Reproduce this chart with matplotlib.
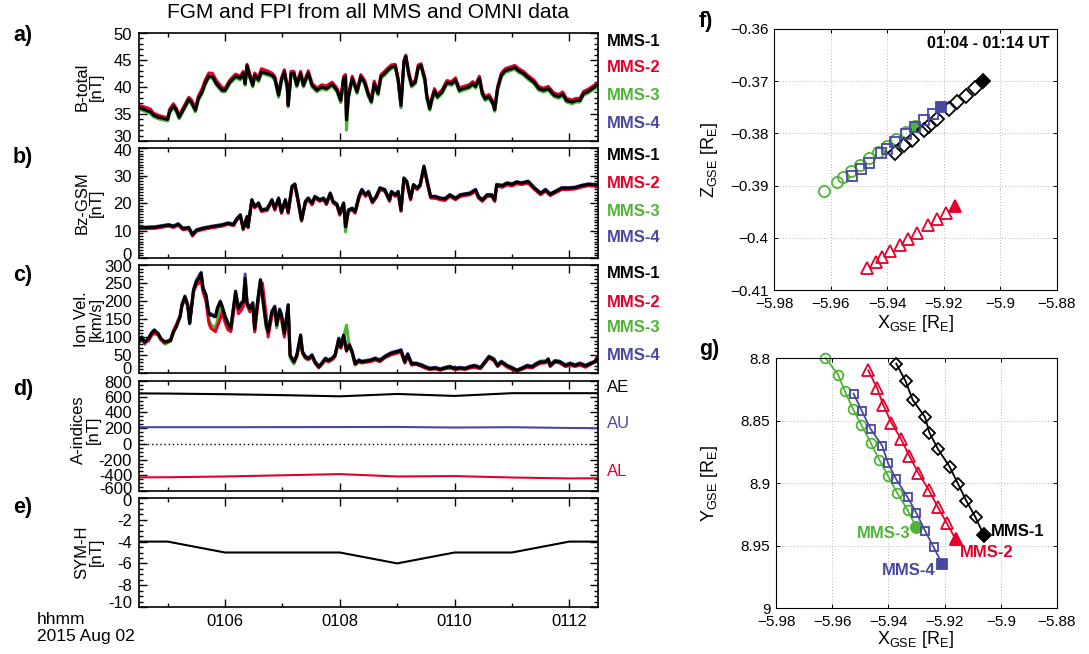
import matplotlib
matplotlib.use("Agg")
import matplotlib.pyplot as plt
from matplotlib.ticker import FixedLocator, MultipleLocator, FuncFormatter, NullFormatter

plt.rcParams['font.family'] = ['Liberation Sans', 'DejaVu Sans']
plt.rcParams['mathtext.fontset'] = 'custom'
plt.rcParams['mathtext.rm'] = 'Liberation Sans'
plt.rcParams['mathtext.it'] = 'Liberation Sans:italic'
plt.rcParams['mathtext.bf'] = 'Liberation Sans:bold'

# ---------------------------------------------------------------- data
# time stamps: seconds after 01:04:00 UT, 2015 Aug 02
t_btot = [
    30, 36, 42, 45, 50, 55, 60, 62, 66, 69,
    72, 76, 82, 85, 89, 92, 96, 99, 103, 107,
    111, 117, 120, 125, 131, 136, 139, 141, 143, 146,
    149, 151, 155, 158, 164, 169, 172, 176, 179, 182,
    185, 186, 189, 192, 195, 199, 202, 207, 211, 216,
    221, 226, 232, 237, 241, 244, 246, 247, 249, 253,
    258, 262, 266, 270, 273, 276, 280, 283, 287, 290,
    294, 298, 301, 304, 307, 309, 312, 315, 319, 322,
    325, 329, 331, 334, 336, 339, 342, 347, 352, 357,
    361, 365, 369, 375, 379, 382, 386, 389, 392, 396,
    400, 402, 405, 409, 413, 418, 423, 427, 432, 437,
    443, 448, 453, 458, 464, 469, 473, 477, 483, 487,
    491, 495, 499, 504, 510]
btot_mms1 = [
    36.2, 35.8, 35.4, 34.8, 34.4, 34.2, 34.0, 35.4, 36.5, 35.7,
    34.4, 35.7, 37.7, 37.1, 35.7, 37.8, 39.1, 40.6, 42.0, 41.9,
    40.6, 39.4, 39.4, 40.9, 42.0, 41.6, 42.5, 40.6, 44.0, 41.9,
    40.3, 42.2, 41.3, 42.8, 42.5, 42.2, 41.6, 38.5, 41.3, 42.8,
    40.0, 36.6, 42.5, 42.5, 40.3, 42.5, 40.3, 42.6, 40.3, 39.4,
    40.0, 39.7, 40.5, 39.4, 37.5, 41.6, 41.9, 33.9, 38.2, 41.6,
    39.1, 41.9, 40.8, 38.5, 37.3, 40.6, 38.8, 41.9, 42.5, 43.1,
    43.7, 43.9, 41.3, 36.6, 44.6, 45.7, 42.5, 40.3, 40.9, 43.7,
    44.0, 41.3, 38.2, 36.0, 37.5, 39.3, 38.2, 39.1, 40.8, 40.6,
    41.3, 39.4, 39.7, 40.0, 40.6, 40.1, 41.6, 38.8, 37.8, 38.2,
    37.0, 35.8, 39.7, 42.2, 43.0, 43.3, 43.6, 43.0, 42.5, 41.7,
    40.9, 39.7, 39.4, 39.7, 38.5, 38.2, 38.7, 37.5, 37.2, 37.5,
    37.5, 38.8, 39.1, 39.7, 40.5]
btot_mms2 = [
    36.6, 36.3, 35.9, 35.2, 34.8, 34.5, 34.3, 35.9, 36.9, 36.1,
    34.8, 36.1, 38.1, 37.6, 36.1, 38.3, 39.7, 41.2, 42.6, 42.5,
    41.2, 39.9, 39.8, 41.3, 42.4, 42.0, 42.9, 41.0, 44.2, 42.4,
    40.8, 42.6, 41.8, 43.4, 43.0, 42.6, 42.0, 38.9, 41.7, 43.2,
    40.4, 37.0, 42.9, 42.9, 40.7, 42.9, 40.7, 43.0, 40.7, 39.8,
    40.4, 40.2, 40.9, 39.8, 37.9, 42.0, 42.3, 34.6, 38.6, 42.0,
    39.5, 42.3, 41.2, 38.9, 37.7, 41.1, 39.2, 42.3, 42.9, 43.5,
    44.1, 44.2, 41.7, 37.0, 44.9, 45.9, 42.9, 40.7, 41.3, 44.1,
    44.3, 41.7, 38.6, 36.4, 37.9, 39.7, 38.6, 39.5, 41.2, 41.0,
    41.7, 39.8, 40.1, 40.4, 41.0, 40.5, 42.0, 39.2, 38.2, 38.6,
    37.4, 36.2, 40.1, 42.6, 43.4, 43.7, 44.0, 43.4, 42.9, 42.1,
    41.3, 40.1, 39.8, 40.1, 38.9, 38.6, 39.1, 37.9, 37.6, 37.9,
    37.9, 39.2, 39.5, 40.1, 40.8]
btot_mms3 = [
    35.9, 35.5, 35.1, 34.5, 34.1, 33.9, 33.7, 35.1, 36.2, 35.4,
    34.1, 35.4, 37.4, 36.8, 35.4, 37.5, 38.8, 40.3, 41.7, 41.6,
    40.3, 39.1, 39.1, 40.6, 41.7, 41.3, 42.2, 40.3, 43.7, 41.6,
    40.0, 41.9, 41.0, 42.5, 42.2, 41.9, 41.3, 38.1, 41.0, 42.5,
    39.7, 36.3, 42.2, 42.2, 40.0, 42.2, 40.0, 42.3, 40.0, 39.1,
    39.7, 39.4, 40.2, 39.1, 37.1, 41.3, 41.6, 32.0, 37.9, 41.3,
    38.8, 41.6, 40.5, 38.2, 37.0, 40.3, 38.5, 41.6, 42.2, 42.8,
    43.4, 43.6, 41.0, 36.3, 44.3, 45.4, 42.2, 40.0, 40.6, 43.4,
    43.7, 41.0, 37.9, 35.7, 37.2, 39.0, 37.9, 38.8, 40.5, 40.3,
    41.0, 39.1, 39.4, 39.7, 40.3, 39.8, 41.3, 38.5, 37.5, 37.9,
    36.7, 35.5, 39.4, 41.9, 42.7, 43.0, 43.3, 42.7, 42.2, 41.4,
    40.6, 39.4, 39.1, 39.4, 38.2, 37.9, 38.4, 37.2, 36.9, 37.2,
    37.2, 38.5, 38.8, 39.4, 40.0]
btot_mms4 = [
    36.1, 35.7, 35.3, 34.7, 34.3, 34.1, 33.9, 35.3, 36.4, 35.6,
    34.3, 35.6, 37.6, 37.0, 35.6, 37.7, 39.0, 40.5, 41.9, 41.8,
    40.5, 39.3, 39.3, 40.8, 41.9, 41.5, 42.4, 40.5, 43.9, 41.8,
    40.2, 42.1, 41.2, 42.7, 42.4, 42.1, 41.5, 38.4, 41.2, 42.7,
    39.9, 36.5, 42.4, 42.4, 40.2, 42.4, 40.2, 42.5, 40.2, 39.3,
    39.9, 39.6, 40.4, 39.3, 37.4, 41.5, 41.8, 33.6, 38.1, 41.5,
    39.0, 41.8, 40.7, 38.4, 37.2, 40.5, 38.7, 41.8, 42.4, 43.0,
    43.6, 43.8, 41.2, 36.2, 44.5, 45.6, 42.4, 40.2, 40.8, 43.6,
    43.9, 41.2, 38.1, 35.8, 37.4, 39.2, 38.1, 39.0, 40.7, 40.5,
    41.2, 39.3, 39.6, 39.9, 40.5, 40.0, 41.5, 38.7, 37.7, 38.1,
    36.9, 35.7, 39.6, 42.1, 42.9, 43.2, 43.5, 42.9, 42.4, 41.6,
    40.8, 39.6, 39.3, 39.6, 38.4, 38.1, 38.6, 37.4, 37.1, 37.4,
    37.4, 38.7, 39.0, 39.6, 40.2]

t_bz = [
    30, 40, 47, 54, 61, 66, 71, 76, 82, 86,
    90, 96, 103, 110, 117, 123, 129, 132, 136, 139,
    143, 144, 148, 151, 155, 158, 164, 169, 172, 176,
    179, 183, 186, 190, 193, 196, 200, 204, 207, 211,
    214, 219, 223, 226, 230, 233, 237, 240, 244, 246,
    249, 253, 256, 260, 263, 267, 270, 274, 278, 282,
    287, 292, 294, 298, 301, 304, 307, 310, 314, 317,
    321, 324, 328, 331, 335, 340, 345, 350, 355, 361,
    366, 371, 376, 382, 385, 389, 394, 399, 402, 404,
    410, 415, 420, 425, 430, 437, 443, 450, 455, 460,
    465, 472, 479, 486, 493, 500, 507, 510]
bz_mms1 = [
    11.0, 11.1, 11.2, 11.6, 12.0, 11.5, 12.3, 10.7, 11.0, 8.5,
    10.1, 10.7, 11.2, 11.6, 12.0, 12.6, 12.2, 14.1, 15.6, 10.7,
    15.0, 11.3, 21.1, 18.7, 19.9, 17.4, 17.8, 21.1, 18.0, 21.7,
    16.8, 21.1, 16.8, 26.0, 26.8, 21.7, 13.8, 20.5, 21.7, 19.9,
    22.3, 21.1, 21.7, 19.9, 23.5, 20.5, 19.5, 16.2, 19.9, 11.3,
    17.4, 18.0, 16.8, 22.3, 24.8, 22.9, 24.1, 20.5, 22.3, 25.4,
    24.8, 21.1, 24.1, 22.9, 24.1, 17.4, 29.0, 27.8, 21.7, 26.6,
    25.4, 26.6, 33.3, 28.4, 22.3, 22.3, 21.7, 21.5, 22.9, 21.7,
    22.9, 23.2, 23.5, 24.8, 22.3, 21.1, 22.9, 22.9, 21.1, 26.6,
    26.3, 27.2, 26.8, 27.6, 27.2, 27.8, 25.6, 23.5, 24.8, 23.2,
    24.1, 25.4, 25.4, 25.6, 26.3, 26.8, 26.6, 26.6]
bz_mms2 = [
    10.6, 10.7, 10.8, 11.2, 11.6, 11.1, 11.9, 10.3, 10.6, 8.2,
    9.7, 10.3, 10.8, 11.2, 11.6, 12.2, 11.8, 13.6, 15.1, 10.4,
    14.5, 11.0, 20.5, 18.2, 19.4, 16.9, 17.3, 20.6, 17.4, 21.2,
    16.2, 20.6, 16.2, 25.5, 26.3, 21.1, 13.5, 19.9, 21.2, 19.3,
    21.8, 20.6, 21.2, 19.4, 23.0, 20.0, 19.0, 15.6, 19.3, 11.6,
    16.9, 17.5, 16.3, 21.7, 24.2, 22.4, 23.6, 20.0, 21.8, 24.9,
    24.3, 20.6, 23.6, 22.4, 23.6, 17.0, 28.4, 27.3, 21.1, 26.0,
    24.9, 26.1, 32.8, 27.9, 21.8, 21.7, 21.2, 20.9, 22.4, 21.2,
    22.4, 22.7, 23.0, 24.2, 21.8, 20.6, 22.4, 22.4, 20.6, 26.1,
    25.7, 26.6, 26.2, 27.0, 26.7, 27.2, 25.1, 23.0, 24.3, 22.7,
    23.6, 24.9, 24.9, 25.1, 25.8, 26.3, 26.1, 26.1]
bz_mms3 = [
    10.8, 10.9, 11.0, 11.4, 11.8, 11.3, 12.1, 10.5, 10.8, 7.8,
    9.9, 10.5, 11.0, 11.4, 11.8, 12.4, 12.0, 13.9, 15.4, 10.2,
    14.8, 11.1, 20.9, 18.5, 19.7, 17.2, 17.6, 20.9, 17.8, 21.5,
    16.5, 20.9, 16.5, 25.8, 26.6, 21.5, 13.4, 20.3, 21.5, 19.7,
    22.1, 20.9, 21.5, 19.6, 23.3, 20.3, 19.3, 15.8, 19.7, 9.5,
    17.2, 17.8, 16.6, 22.1, 24.6, 22.7, 23.9, 20.3, 22.1, 25.2,
    24.6, 20.9, 23.9, 22.7, 23.9, 17.2, 28.8, 27.6, 21.5, 26.4,
    25.2, 26.4, 33.1, 28.2, 22.1, 22.1, 21.5, 21.3, 22.7, 21.5,
    22.7, 23.0, 23.3, 24.6, 22.1, 20.9, 22.7, 22.7, 20.7, 26.4,
    26.1, 27.0, 26.6, 27.4, 27.0, 27.6, 25.4, 23.3, 24.6, 23.0,
    23.9, 25.2, 25.2, 25.4, 26.1, 26.6, 26.4, 26.4]
bz_mms4 = [
    11.2, 11.3, 11.4, 11.8, 12.2, 11.7, 12.5, 10.9, 11.2, 8.7,
    10.3, 10.9, 11.4, 11.8, 12.2, 12.8, 12.4, 14.3, 15.8, 10.9,
    15.2, 11.5, 21.3, 18.9, 20.1, 17.6, 18.0, 21.3, 18.2, 21.9,
    17.0, 21.3, 17.0, 26.2, 27.0, 21.9, 14.0, 20.7, 21.9, 20.1,
    22.5, 21.3, 21.9, 20.1, 23.7, 20.7, 19.7, 16.4, 20.1, 11.5,
    17.6, 18.2, 17.0, 22.5, 25.0, 23.1, 24.3, 20.7, 22.5, 25.6,
    25.0, 21.3, 24.3, 23.1, 24.3, 17.6, 29.2, 28.0, 21.9, 26.8,
    25.6, 26.8, 33.5, 28.6, 22.5, 22.5, 21.9, 21.7, 23.1, 21.9,
    23.1, 23.4, 23.7, 25.0, 22.5, 21.3, 23.1, 23.1, 21.3, 26.8,
    26.5, 27.4, 27.0, 27.8, 27.4, 28.0, 25.8, 23.7, 25.0, 23.4,
    24.3, 25.6, 25.6, 25.8, 26.5, 27.0, 26.8, 26.8]

t_vi = [
    30, 33, 36, 40, 43, 46, 50, 53, 57, 60,
    63, 66, 69, 73, 75, 78, 81, 83, 87, 90,
    93, 95, 97, 100, 103, 105, 110, 112, 115, 117,
    120, 123, 126, 129, 131, 134, 137, 139, 141, 143,
    146, 149, 151, 154, 157, 159, 163, 165, 169, 172,
    174, 177, 179, 182, 186, 188, 192, 195, 199, 201,
    204, 207, 211, 214, 218, 221, 225, 228, 232, 235,
    239, 241, 244, 247, 250, 253, 256, 260, 263, 267,
    272, 277, 282, 287, 293, 298, 301, 304, 308, 311,
    315, 320, 326, 329, 334, 340, 345, 350, 355, 361,
    366, 371, 376, 381, 387, 392, 396, 401, 405, 409,
    415, 420, 425, 430, 436, 441, 446, 450, 455, 458,
    460, 465, 470, 476, 481, 486, 491, 497, 502, 507,
    510]
vi_mms1 = [
    86, 100, 86, 96, 110, 119, 110, 96, 86, 88,
    91, 114, 128, 156, 189, 212, 189, 137, 230, 254,
    263, 277, 235, 216, 165, 161, 156, 179, 198, 184,
    156, 137, 123, 184, 226, 179, 193, 198, 263, 193,
    179, 193, 123, 198, 258, 216, 133, 114, 170, 184,
    133, 175, 161, 110, 189, 49, 31, 49, 105, 58,
    45, 40, 49, 31, 17, 26, 40, 35, 40, 49,
    96, 72, 105, 63, 77, 58, 26, 35, 31, 33,
    35, 40, 35, 45, 54, 58, 60, 63, 31, 52,
    26, 26, 21, 17, 12, 14, 10, 14, 17, 12,
    14, 12, 17, 20, 14, 31, 45, 38, 21, 31,
    20, 14, 7, 12, 20, 17, 26, 31, 31, 38,
    21, 33, 31, 21, 26, 21, 26, 20, 26, 31,
    45]
vi_mms2 = [
    90, 92, 84, 90, 104, 110, 106, 92, 84, 86,
    90, 118, 134, 160, 190, 205, 185, 140, 225, 245,
    250, 255, 225, 200, 140, 125, 115, 130, 150, 170,
    140, 120, 115, 170, 215, 165, 175, 185, 245, 190,
    170, 180, 115, 185, 245, 250, 160, 100, 160, 180,
    140, 165, 150, 100, 175, 50, 30, 45, 95, 55,
    42, 38, 45, 28, 15, 24, 36, 32, 38, 48,
    92, 70, 95, 60, 80, 55, 24, 32, 28, 30,
    32, 36, 32, 42, 50, 54, 56, 58, 28, 48,
    22, 24, 18, 14, 10, 12, 8, 12, 14, 10,
    12, 10, 14, 16, 12, 28, 42, 35, 18, 28,
    16, 10, 5, 10, 16, 14, 22, 27, 28, 33,
    18, 30, 28, 18, 22, 18, 22, 16, 24, 34,
    48]
vi_mms3 = [
    84, 96, 84, 92, 106, 115, 104, 92, 80, 84,
    88, 110, 130, 158, 185, 210, 185, 140, 225, 250,
    258, 270, 230, 205, 150, 135, 125, 145, 185, 180,
    150, 130, 120, 178, 220, 172, 188, 195, 258, 188,
    170, 185, 114, 190, 250, 210, 125, 110, 160, 175,
    125, 168, 150, 105, 180, 42, 25, 45, 100, 54,
    40, 36, 44, 28, 14, 22, 36, 30, 36, 44,
    90, 68, 100, 133, 72, 54, 22, 30, 28, 30,
    32, 36, 32, 42, 50, 54, 56, 58, 28, 48,
    24, 24, 18, 14, 10, 12, 8, 12, 14, 10,
    12, 10, 14, 16, 12, 29, 42, 35, 19, 29,
    18, 12, 5, 10, 17, 15, 24, 30, 34, 36,
    20, 30, 28, 18, 24, 19, 24, 18, 24, 30,
    44]
vi_mms4 = [
    95, 100, 80, 98, 112, 120, 108, 94, 86, 90,
    92, 115, 130, 158, 192, 214, 190, 140, 232, 258,
    272, 280, 238, 218, 168, 165, 158, 182, 200, 186,
    160, 140, 126, 186, 228, 182, 196, 200, 275, 196,
    182, 196, 126, 200, 260, 218, 136, 116, 172, 186,
    136, 178, 164, 112, 190, 50, 33, 50, 106, 60,
    47, 42, 51, 33, 19, 28, 42, 37, 42, 51,
    97, 74, 106, 65, 79, 60, 28, 37, 33, 35,
    37, 42, 37, 47, 56, 60, 62, 65, 33, 54,
    28, 28, 23, 19, 14, 16, 12, 16, 19, 14,
    16, 14, 19, 22, 16, 33, 47, 40, 23, 33,
    22, 16, 9, 14, 22, 19, 28, 33, 33, 40,
    23, 35, 33, 23, 28, 23, 28, 22, 28, 33,
    46]

# OMNI one-minute indices, 01:04 ... 01:13
t_omni = [0, 60, 120, 180, 240, 300, 360, 420, 480, 540]
ae_index = [645, 640, 632, 620, 605, 635, 610, 645, 645, 645]
au_index = [212, 212, 212, 213, 214, 215, 208, 212, 202, 198]
al_index = [-428, -425, -415, -400, -385, -415, -410, -428, -440, -435]
sym_h = [-4, -4, -5, -5, -5, -6, -5, -5, -4, -4]

# spacecraft positions, one per minute 01:04 ... 01:14 UT [R_E, GSE]
x_mms1 = [-5.9372, -5.9339, -5.9313, -5.9270, -5.9254, -5.9223, -5.9182, -5.9152, -5.9123, -5.9090, -5.9061]
y_mms1 = [8.8045, 8.8184, 8.8338, 8.8471, 8.8598, 8.8731, 8.8870, 8.9008, 8.9141, 8.9274, 8.9415]
z_mms1 = [-0.3838, -0.3823, -0.3812, -0.3793, -0.3786, -0.3772, -0.3754, -0.3740, -0.3728, -0.3713, -0.3700]
x_mms2 = [-5.9472, -5.9441, -5.9418, -5.9389, -5.9356, -5.9325, -5.9294, -5.9256, -5.9225, -5.9192, -5.9161]
y_mms2 = [8.8098, 8.8237, 8.8378, 8.8519, 8.8644, 8.8785, 8.8918, 8.9056, 8.9189, 8.9322, 8.9449]
z_mms2 = [-0.4058, -0.4046, -0.4037, -0.4026, -0.4014, -0.4002, -0.3990, -0.3976, -0.3964, -0.3952, -0.3940]
x_mms3 = [-5.9624, -5.9579, -5.9555, -5.9527, -5.9496, -5.9463, -5.9432, -5.9401, -5.9368, -5.9332, -5.9301]
y_mms3 = [8.8000, 8.8133, 8.8266, 8.8404, 8.8537, 8.8678, 8.8816, 8.8944, 8.9082, 8.9215, 8.9354]
z_mms3 = [-0.3910, -0.3893, -0.3883, -0.3872, -0.3860, -0.3848, -0.3836, -0.3824, -0.3811, -0.3797, -0.3785]
x_mms4 = [-5.9524, -5.9494, -5.9463, -5.9422, -5.9401, -5.9372, -5.9332, -5.9301, -5.9270, -5.9239, -5.9209]
y_mms4 = [8.8285, 8.8426, 8.8569, 8.8702, 8.8843, 8.8971, 8.9114, 8.9237, 8.9380, 8.9513, 8.9646]
z_mms4 = [-0.3881, -0.3869, -0.3856, -0.3838, -0.3830, -0.3817, -0.3801, -0.3788, -0.3775, -0.3762, -0.3749]

sc_names = ['MMS-1', 'MMS-2', 'MMS-3', 'MMS-4']
sc_colors = ['black', '#e5002b', '#4db533', '#4a47a3']
time_ticks = [120, 240, 360, 480]
time_minor = [60, 180, 300, 420]

# ---------------------------------------------------------------- figure
W, H = 1089, 654
fig = plt.figure(figsize=(W / 100, H / 100), dpi=100)


def ax_px(l, t, r, b):
    return fig.add_axes([l / W, 1 - b / H, (r - l) / W, (b - t) / H])


def ftext(x, y, s, **kw):
    fig.text(x / W, 1 - y / H, s, **kw)


def style_time(ax, ylim, major, minor, labels=False, low_shift=3):
    lo, hi = ylim
    ax.set_xlim(30, 510)
    ax.set_ylim(lo, hi)
    ax.xaxis.set_major_locator(FixedLocator(time_ticks))
    ax.xaxis.set_minor_locator(FixedLocator(time_minor))
    ax.yaxis.set_major_locator(MultipleLocator(major))
    ax.yaxis.set_minor_locator(MultipleLocator(minor))
    ax.tick_params(which='both', direction='in', top=True, right=True,
                   width=1.0, labelsize=12, pad=5, colors='black')
    ax.tick_params(which='major', length=6)
    ax.tick_params(which='minor', length=3)

    def yfmt(v, p):
        if abs(v - lo) < 1e-6 or abs(v - hi) < 1e-6:
            return ''
        return '%d' % round(v)
    ax.yaxis.set_major_formatter(FuncFormatter(yfmt))
    # end labels sit just inside the frame so stacked panels do not collide
    for v, dy in ((lo, low_shift), (hi, -3)):
        ax.annotate('%d' % round(v), xy=(0, v),
                    xycoords=('axes fraction', 'data'),
                    xytext=(-7, dy), textcoords='offset pixels',
                    ha='right', va='center', fontsize=12,
                    annotation_clip=False)
    if labels:
        ax.xaxis.set_major_formatter(
            FuncFormatter(lambda v, p: '01%02d' % (4 + int(v) // 60)))
    else:
        ax.xaxis.set_major_formatter(NullFormatter())
    for s in ax.spines.values():
        s.set_linewidth(1.2)


def spacecraft_lines(ax, t, series):
    for vals, c in list(zip(series, sc_colors))[::-1]:
        ax.plot(t, vals, color=c, lw=2.2, solid_joinstyle='round')


def sc_legend(ys):
    for y, name, c in zip(ys, sc_names, sc_colors):
        ftext(607, y, name, color=c, fontsize=12, fontweight='bold',
              ha='left', va='center')


def ylab(y, s, x=89):
    ftext(x, y, s, rotation=90, ha='center', va='center',
          multialignment='center', fontsize=12, linespacing=0.95)


# a) total field
pa = ax_px(139, 33, 598, 141)
spacecraft_lines(pa, t_btot, [btot_mms1, btot_mms2, btot_mms3, btot_mms4])
style_time(pa, (30, 50), 5, 1)
sc_legend([41, 68, 95, 123])
ylab(87, 'B-total\n[nT]')

# b) Bz GSM
pb = ax_px(139, 148, 598, 258)
spacecraft_lines(pb, t_bz, [bz_mms1, bz_mms2, bz_mms3, bz_mms4])
style_time(pb, (0, 40), 10, 1)
sc_legend([156, 183, 211, 238])
ylab(203, 'Bz-GSM\n[nT]')

# c) ion velocity
pc = ax_px(139, 265, 598, 373)
spacecraft_lines(pc, t_vi, [vi_mms1, vi_mms2, vi_mms3, vi_mms4])
style_time(pc, (0, 300), 50, 10)
sc_legend([274, 302, 328, 356])
ylab(319, 'Ion Vel.\n[km/s]')

# d) auroral indices
pd = ax_px(139, 381, 598, 491)
pd.axhline(0, color='black', lw=1.0, ls=(0, (1, 2)))
pd.plot(t_omni, ae_index, color='black', lw=1.5)
pd.plot(t_omni, au_index, color=sc_colors[3], lw=1.5)
pd.plot(t_omni, al_index, color=sc_colors[1], lw=1.5)
style_time(pd, (-600, 800), 200, 50, low_shift=2)
ftext(607, 388, 'AE', color='black', fontsize=12, ha='left', va='center')
ftext(607, 423, 'AU', color=sc_colors[3], fontsize=12, ha='left', va='center')
ftext(607, 472, 'AL', color=sc_colors[1], fontsize=12, ha='left', va='center')
ylab(430, 'A-indices\n[nT]', x=86)

# e) SYM-H
pe = ax_px(139, 498, 598, 607)
pe.plot(t_omni, sym_h, color='black', lw=1.5)
style_time(pe, (-10, 0), 2, 0.5, labels=True)
ylab(552, 'SYM-H\n[nT]')

ftext(37, 620, 'hhmm', fontsize=12.5, ha='left', va='center')
ftext(37, 636, '2015 Aug 02', fontsize=12.5, ha='left', va='center')

for y, s in zip([36, 157, 275, 390, 508], ['a)', 'b)', 'c)', 'd)', 'e)']):
    ftext(13, y, s, fontsize=15.5, fontweight='bold', ha='left', va='center')

ftext(368, 13, 'FGM and FPI from all MMS and OMNI data', fontsize=15,
      ha='center', va='center')

# ---------------------------------------------------------------- orbits
markers = ['D', '^', 'o', 's']
draw_order = [2, 0, 1, 3]
xs = [x_mms1, x_mms2, x_mms3, x_mms4]
ys = [y_mms1, y_mms2, y_mms3, y_mms4]
zs = [z_mms1, z_mms2, z_mms3, z_mms4]
msize_f = [7.5, 9, 8, 7.5]
msize_g = [6.5, 8, 7, 6]


def minus(v, p):
    return ('%g' % v).replace('-', '\u2212')


def style_orbit(ax, yticks):
    ax.set_xlim(-5.98, -5.88)
    ax.set_xticks([-5.98, -5.96, -5.94, -5.92, -5.90, -5.88])
    ax.set_yticks(yticks)
    ax.xaxis.set_major_formatter(FuncFormatter(minus))
    ax.yaxis.set_major_formatter(FuncFormatter(minus))
    ax.grid(True, ls=(0, (1, 2)), color='#b8b8b8', lw=0.7)
    ax.set_axisbelow(True)
    ax.tick_params(direction='in', top=True, right=True, length=3,
                   width=0.7, labelsize=11, pad=4)
    ax.tick_params(axis='x', pad=5)
    for s in ax.spines.values():
        s.set_linewidth(0.8)


pf = ax_px(774, 29, 1057, 290)
for i in draw_order:
    c = sc_colors[i]
    pf.plot(xs[i][:-1], zs[i][:-1], ls='none', marker=markers[i],
            ms=msize_f[i], mfc='none', mec=c, mew=1.3)
    pf.plot(xs[i][-1:], zs[i][-1:], ls='none', marker=markers[i],
            ms=msize_f[i], mfc=c, mec=c, mew=1.3)
pf.set_ylim(-0.41, -0.36)
style_orbit(pf, [-0.41, -0.40, -0.39, -0.38, -0.37, -0.36])
pf.text(0.975, 0.946, '01:04 - 01:14 UT', transform=pf.transAxes,
        ha='right', va='center', fontsize=11.5, fontweight='bold')

pg = ax_px(776, 358, 1057, 608)
for i in draw_order:
    c = sc_colors[i]
    pg.plot(xs[i], ys[i], color=c, lw=1.3, marker=markers[i],
            ms=msize_g[i], mfc='none', mec=c, mew=1.3, clip_on=False)
    pg.plot(xs[i][-1:], ys[i][-1:], ls='none', marker=markers[i],
            ms=msize_g[i] + 1, mfc=c, mec=c, mew=1.3)
pg.set_ylim(9.0, 8.8)
style_orbit(pg, [8.8, 8.85, 8.9, 8.95, 9.0])

label_pos = [(-5.9035, 8.9385, 'left'), (-5.9145, 8.9556, 'left'),
             (-5.9322, 8.9407, 'right'), (-5.9232, 8.9700, 'right')]
for (lx, ly, ha), name, c in zip(label_pos, sc_names, sc_colors):
    pg.text(lx, ly, name, color=c, fontsize=12, fontweight='bold',
            ha=ha, va='center')

xlabel = r'X$_{\mathrm{GSE}}$ [R$_{\mathrm{E}}$]'
ftext(916, 323, xlabel, fontsize=13, ha='center', va='center')
ftext(916, 640, xlabel, fontsize=13, ha='center', va='center')
ftext(710, 160, r'Z$_{\mathrm{GSE}}$ [R$_{\mathrm{E}}$]', fontsize=13,
      rotation=90, ha='center', va='center')
ftext(710, 483, r'Y$_{\mathrm{GSE}}$ [R$_{\mathrm{E}}$]', fontsize=13,
      rotation=90, ha='center', va='center')

ftext(699, 22, 'f)', fontsize=15.5, fontweight='bold', ha='left', va='center')
ftext(699, 349, 'g)', fontsize=15.5, fontweight='bold', ha='left', va='center')

fig.savefig('out.png', dpi=100)
